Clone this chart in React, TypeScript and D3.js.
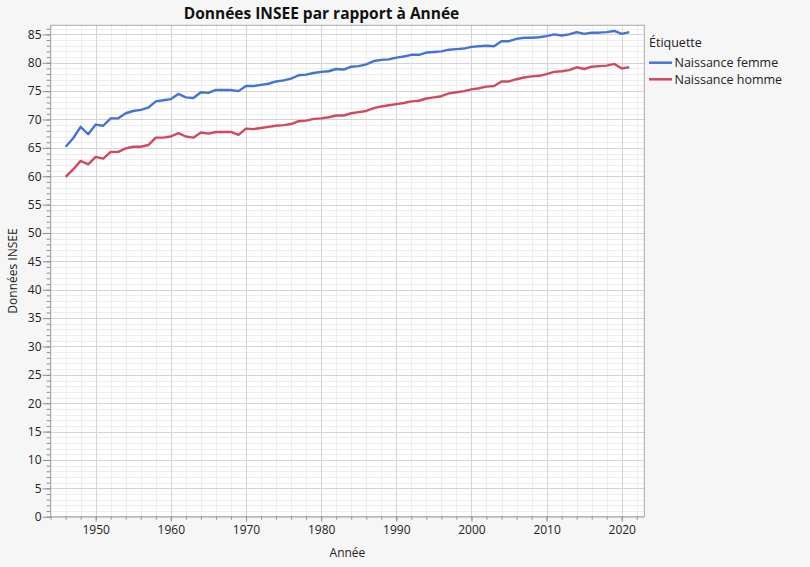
import React, { useEffect, useRef } from 'react'
import * as d3 from 'd3'

// années 1946 -> 2021
const annees = [
  1946, 1947, 1948, 1949, 1950, 1951, 1952, 1953, 1954, 1955, 1956, 1957, 1958, 1959,
  1960, 1961, 1962, 1963, 1964, 1965, 1966, 1967, 1968, 1969, 1970, 1971, 1972, 1973,
  1974, 1975, 1976, 1977, 1978, 1979, 1980, 1981, 1982, 1983, 1984, 1985, 1986, 1987,
  1988, 1989, 1990, 1991, 1992, 1993, 1994, 1995, 1996, 1997, 1998, 1999, 2000, 2001,
  2002, 2003, 2004, 2005, 2006, 2007, 2008, 2009, 2010, 2011, 2012, 2013, 2014, 2015,
  2016, 2017, 2018, 2019, 2020, 2021
]

const naissanceFemme = [
  65.2, 66.7, 68.7, 67.4, 69.1, 68.9, 70.2, 70.2, 71.1, 71.5, 71.7, 72.1, 73.2, 73.4,
  73.6, 74.5, 73.9, 73.8, 74.8, 74.7, 75.2, 75.2, 75.2, 75.0, 75.9, 75.9, 76.1, 76.3,
  76.7, 76.9, 77.2, 77.8, 77.9, 78.2, 78.4, 78.5, 78.9, 78.8, 79.3, 79.4, 79.7, 80.3,
  80.5, 80.6, 80.9, 81.1, 81.4, 81.4, 81.8, 81.9, 82.0, 82.3, 82.4, 82.5, 82.8, 82.9,
  83.0, 82.9, 83.8, 83.8, 84.2, 84.4, 84.4, 84.5, 84.7, 85.0, 84.8, 85.0, 85.4, 85.1,
  85.3, 85.3, 85.4, 85.6, 85.1, 85.4
]

const naissanceHomme = [
  59.9, 61.2, 62.7, 62.1, 63.4, 63.1, 64.3, 64.3, 64.9, 65.2, 65.2, 65.5, 66.8, 66.8,
  67.0, 67.6, 67.0, 66.8, 67.7, 67.5, 67.8, 67.8, 67.8, 67.3, 68.4, 68.3, 68.5, 68.7,
  68.9, 69.0, 69.2, 69.7, 69.8, 70.1, 70.2, 70.4, 70.7, 70.7, 71.1, 71.3, 71.5, 72.0,
  72.3, 72.5, 72.7, 72.9, 73.2, 73.3, 73.7, 73.9, 74.1, 74.6, 74.8, 75.0, 75.3, 75.5,
  75.8, 75.9, 76.7, 76.7, 77.1, 77.4, 77.6, 77.7, 78.0, 78.4, 78.5, 78.7, 79.2, 78.9,
  79.3, 79.4, 79.5, 79.8, 79.0, 79.2
]

const series = [
  { nom: 'Naissance femme', valeurs: naissanceFemme, couleur: '#4472d6' },
  { nom: 'Naissance homme', valeurs: naissanceHomme, couleur: '#d04a5c' }
]

const yTicks = [0, 5, 10, 15, 20, 25, 30, 35, 40, 45, 50, 55, 60, 65, 70, 75, 80, 85]
const xTicks = [1950, 1960, 1970, 1980, 1990, 2000, 2010, 2020]

const FONT = '"Open Sans", "Noto Sans", sans-serif'

export default function App() {
  const ref = useRef<SVGSVGElement>(null)

  useEffect(() => {
    document.body.style.margin = '0'
    const svg = d3.select(ref.current)
    svg.selectAll('*').remove()

    const left = 50.6,
      right = 644.3,
      top = 25.3,
      bottom = 516.7

    const x = d3.scaleLinear().domain([1944, 2023]).range([left, right])
    const y = d3.scaleLinear().domain([0, 86.6]).range([bottom, top])

    svg.append('rect').attr('width', 810).attr('height', 567).attr('fill', '#f6f6f6')
    svg
      .append('rect')
      .attr('x', left)
      .attr('y', top)
      .attr('width', right - left)
      .attr('height', bottom - top)
      .attr('fill', '#fff')

    const minorY = d3.range(0, 87, 1)
    const minorX = d3.range(1944, 2024, 2)

    // grille mineure
    const grid = svg.append('g')
    grid
      .selectAll('.gy')
      .data(minorY)
      .enter()
      .append('line')
      .attr('x1', left)
      .attr('x2', right)
      .attr('y1', d => Math.round(y(d)) + 0.5)
      .attr('y2', d => Math.round(y(d)) + 0.5)
      .attr('stroke', '#eeeeee')
    grid
      .selectAll('.gx')
      .data(minorX)
      .enter()
      .append('line')
      .attr('y1', top)
      .attr('y2', bottom)
      .attr('x1', d => Math.round(x(d)) + 0.5)
      .attr('x2', d => Math.round(x(d)) + 0.5)
      .attr('stroke', '#eeeeee')
    // grille majeure
    grid
      .selectAll('.gY')
      .data(yTicks)
      .enter()
      .append('line')
      .attr('x1', left)
      .attr('x2', right)
      .attr('y1', d => Math.round(y(d)) + 0.5)
      .attr('y2', d => Math.round(y(d)) + 0.5)
      .attr('stroke', '#d4d4d4')
    grid
      .selectAll('.gX')
      .data(xTicks)
      .enter()
      .append('line')
      .attr('y1', top)
      .attr('y2', bottom)
      .attr('x1', d => Math.round(x(d)) + 0.5)
      .attr('x2', d => Math.round(x(d)) + 0.5)
      .attr('stroke', '#d4d4d4')

    svg
      .append('rect')
      .attr('x', left)
      .attr('y', top)
      .attr('width', right - left)
      .attr('height', bottom - top)
      .attr('fill', 'none')
      .attr('stroke', '#a8a8a8')

    // axes
    const styleAxis = (g: any) => {
      g.select('.domain').remove()
      g.selectAll('line').attr('stroke', '#909090')
      g.selectAll('text')
        .attr('fill', '#222')
        .style('font-family', FONT)
        .style('font-size', '12px')
    }

    svg
      .append('g')
      .attr('transform', `translate(${left},0)`)
      .call(d3.axisLeft(y).tickValues(minorY).tickSize(4).tickFormat(() => ''))
      .call(styleAxis)
    svg
      .append('g')
      .attr('transform', `translate(${left},0)`)
      .call(d3.axisLeft(y).tickValues(yTicks).tickSize(8).tickPadding(1))
      .call(styleAxis)

    svg
      .append('g')
      .attr('transform', `translate(0,${bottom})`)
      .call(d3.axisBottom(x).tickValues(minorX).tickSize(3).tickFormat(() => ''))
      .call(styleAxis)
    svg
      .append('g')
      .attr('transform', `translate(0,${bottom})`)
      .call(d3.axisBottom(x).tickValues(xTicks).tickSize(5).tickPadding(4).tickFormat(d3.format('d')))
      .call(styleAxis)

    // lignes
    const line = d3
      .line<number>()
      .x((d, i) => x(annees[i]))
      .y(d => y(d))

    series.forEach(s => {
      svg
        .append('path')
        .datum(s.valeurs)
        .attr('d', line)
        .attr('fill', 'none')
        .attr('stroke', s.couleur)
        .attr('stroke-width', 2.4)
        .attr('stroke-linejoin', 'round')
    })

    // titres
    svg
      .append('text')
      .attr('x', 321.5)
      .attr('y', 18.5)
      .attr('text-anchor', 'middle')
      .style('font-family', FONT)
      .style('font-size', '15.5px')
      .style('font-weight', 'bold')
      .attr('fill', '#111')
      .text('Données INSEE par rapport à Année')

    svg
      .append('text')
      .attr('x', (left + right) / 2)
      .attr('y', 557)
      .attr('text-anchor', 'middle')
      .style('font-family', FONT)
      .style('font-size', '12px')
      .attr('fill', '#222')
      .text('Année')

    svg
      .append('text')
      .attr('transform', `translate(17,${(top + bottom) / 2}) rotate(-90)`)
      .attr('text-anchor', 'middle')
      .style('font-family', FONT)
      .style('font-size', '12px')
      .attr('fill', '#222')
      .text('Données INSEE')

    // légende
    const leg = svg.append('g').attr('transform', 'translate(649,0)')
    leg
      .append('text')
      .attr('x', 0)
      .attr('y', 46.5)
      .style('font-family', FONT)
      .style('font-size', '12.5px')
      .attr('fill', '#222')
      .text('Étiquette')

    const items = leg
      .selectAll('.item')
      .data(series)
      .enter()
      .append('g')
      .attr('transform', (d, i) => `translate(0,${62.7 + i * 16.6})`)
    items
      .append('line')
      .attr('x1', 0)
      .attr('x2', 23)
      .attr('stroke', d => d.couleur)
      .attr('stroke-width', 2.5)
    items
      .append('text')
      .attr('x', 25.5)
      .attr('y', 4.3)
      .style('font-family', FONT)
      .style('font-size', '12.5px')
      .attr('fill', '#222')
      .text(d => d.nom)
  }, [])

  return <svg ref={ref} width={810} height={567} style={{ display: 'block' }}></svg>
}
